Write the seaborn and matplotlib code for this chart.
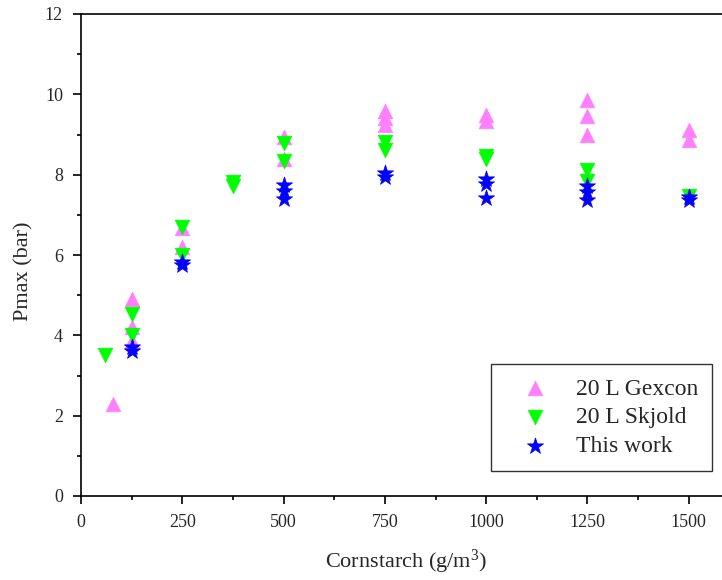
import matplotlib
matplotlib.use("Agg")
import matplotlib.pyplot as plt
import seaborn as sns
import pandas as pd
from matplotlib.ticker import MultipleLocator

sns.set_theme(style="white")
plt.rcParams['font.family'] = ['Liberation Serif', 'DejaVu Serif']
plt.rcParams['mathtext.fontset'] = 'custom'
plt.rcParams['mathtext.rm'] = 'Liberation Serif'
plt.rcParams['mathtext.it'] = 'Liberation Serif:italic'

gexcon_x = [80, 125, 125, 125, 250, 250, 500, 500, 750, 750, 750, 1000, 1000, 1250, 1250, 1250, 1500, 1500]
gexcon_y = [2.3, 4.9, 4.2, 3.85, 6.67, 6.2, 8.95, 8.4, 9.58, 9.4, 9.24, 9.48, 9.33, 9.85, 9.46, 8.99, 9.1, 8.86]

skjold_x = [60, 125, 125, 250, 250, 375, 375, 500, 500, 750, 750, 1000, 1000, 1250, 1250, 1500]
skjold_y = [3.5, 4.52, 4.0, 6.7, 6.0, 7.82, 7.72, 8.78, 8.33, 8.81, 8.62, 8.46, 8.40, 8.11, 7.85, 7.48]

this_x = [125, 125, 250, 250, 500, 500, 500, 750, 750, 1000, 1000, 1000, 1250, 1250, 1250, 1500, 1500]
this_y = [3.7, 3.6, 5.82, 5.74, 7.74, 7.6, 7.4, 8.05, 7.93, 7.88, 7.76, 7.41, 7.73, 7.57, 7.38, 7.45, 7.37]

labels = ["20 L Gexcon", "20 L Skjold", "This work"]

df = pd.concat([
    pd.DataFrame({"x": gexcon_x, "y": gexcon_y, "series": labels[0]}),
    pd.DataFrame({"x": skjold_x, "y": skjold_y, "series": labels[1]}),
    pd.DataFrame({"x": this_x, "y": this_y, "series": labels[2]}),
], ignore_index=True)

fig = plt.figure(figsize=(7.22, 5.80), dpi=100)
ax = fig.add_axes([81/722, 1 - 496/580, (722 - 81)/722, 482/580])

palette = {labels[0]: "#FF80FF", labels[1]: "#00FF00", labels[2]: "#0000FF"}
markers = {labels[0]: "^", labels[1]: "v", labels[2]: "*"}
sizes = {labels[0]: 110, labels[1]: 110, labels[2]: 150}
for lab in labels:
    sub = df[df.series == lab]
    sns.scatterplot(data=sub, x="x", y="y", ax=ax, color=palette[lab], marker=markers[lab],
                    s=sizes[lab], edgecolor=palette[lab], linewidth=0.5, label=lab, zorder=3)

ax.set_xlim(0, 1582)
ax.set_ylim(0, 12)
ax.xaxis.set_major_locator(MultipleLocator(250))
ax.xaxis.set_minor_locator(MultipleLocator(125))
ax.yaxis.set_major_locator(MultipleLocator(2))
ax.yaxis.set_minor_locator(MultipleLocator(1))
ax.tick_params(axis='both', which='major', direction='out', length=6, width=1.2, color='black',
               labelsize=13, bottom=True, left=True, pad=7)
ax.tick_params(axis='both', which='minor', direction='out', length=3, width=1.2, color='black',
               bottom=True, left=True)
for side in ['left', 'bottom', 'top']:
    ax.spines[side].set_color('black')
    ax.spines[side].set_linewidth(1.2)
ax.spines['right'].set_visible(False)

ax.set_xlabel("Cornstarch (g/m$^3$)", fontsize=16)
ax.set_ylabel("Pmax (bar)", fontsize=16)
ax.xaxis.set_label_coords((406 - 81) / 641, -(562 - 496) / 482)
ax.yaxis.set_label_coords((24 - 81) / 641, (496 - 271) / 482)
ax.xaxis.label.set_verticalalignment('center')
ax.yaxis.label.set_verticalalignment('center')

leg = ax.legend(loc='lower right',
                bbox_to_anchor=((712 - 81) / 641, (496 - 471) / 482),
                bbox_transform=ax.transAxes, frameon=True,
                fancybox=False, fontsize=17, edgecolor='black', handletextpad=0.4,
                handlelength=2.6, borderpad=0.6, labelspacing=0.3, borderaxespad=0)
leg.get_frame().set_linewidth(1.0)

fig.savefig("out.png", dpi=100)
